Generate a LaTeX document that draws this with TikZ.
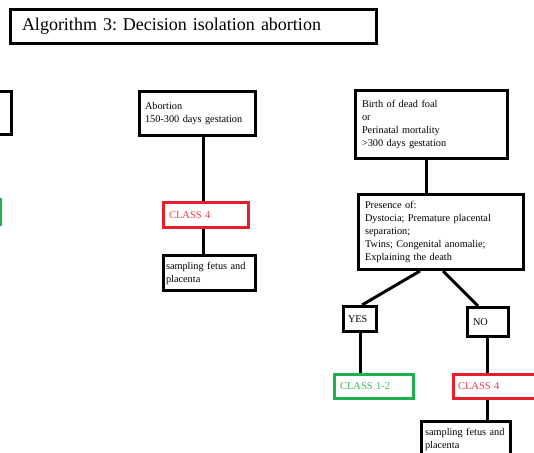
\documentclass[tikz,border=0pt]{standalone}
\usepackage{fontspec}
\setmainfont{Liberation Serif}
\definecolor{boxred}{RGB}{232,30,42}
\definecolor{txtred}{RGB}{232,60,75}
\definecolor{boxgreen}{RGB}{30,178,76}
\definecolor{txtgreen}{RGB}{55,185,90}
\frenchspacing
\begin{document}
\begin{tikzpicture}[x=1pt,y=-1pt,
  base/.style={draw, line width=3pt, align=left, inner ysep=0pt,
    font=\fontsize{10.3}{13}\selectfont},
  plain/.style={base, draw=black},
  redbox/.style={base, draw=boxred, text=txtred,
    font=\fontsize{10.5}{13}\selectfont},
  greenbox/.style={base, draw=boxgreen, text=txtgreen,
    font=\fontsize{10.5}{13}\selectfont},
  link/.style={line width=3pt, draw=black}]

\useasboundingbox (0,0) rectangle (534,452);
\clip (0,0) rectangle (534,452);

% heading
\node[plain, minimum height=34pt, text width=343pt, inner xsep=11.5pt,
  font=\fontsize{18}{22}\selectfont] (title) at (193.5,26.5)
  {Algorithm 3: Decision isolation abortion};

% boxes of the neighbouring branch, running off the left edge
\node[plain, minimum width=42pt, minimum height=43pt, inner sep=0pt] (prev) at (-9.5,113) {};
\node[base, draw=boxgreen, minimum width=60pt, minimum height=25pt, inner sep=0pt] (prevclass) at (-29.5,212) {};

% abortion branch
\node[plain, minimum height=44pt, text width=105pt, inner xsep=5.5pt] (abort) at (197.5,113.5)
  {Abortion\\150-300 days gestation};
\node[redbox, minimum height=25pt, text width=74pt, inner xsep=5.5pt] (clsA) at (206,215)
  {CLASS 4};
\node[plain, minimum height=35pt, text width=87pt, inner xsep=2.5pt] (sampA) at (209.5,273)
  {sampling fetus and\\placenta};

% dead foal / perinatal branch
\node[plain, minimum height=68pt, text width=139pt, inner xsep=6.5pt] (birth) at (431.5,124.5)
  {Birth of dead foal\\or\\Perinatal mortality\\>300 days gestation};
\node[plain, minimum height=75pt, text width=152pt, inner xsep=6.5pt] (presence) at (441,232)
  {Presence of:\\Dystocia; Premature placental\\separation;\\Twins; Congenital anomalie;\\Explaining the death};
\node[plain, minimum height=25pt, text width=24pt, inner xsep=4.5pt] (yes) at (360,319) {YES};
\node[plain, minimum height=29pt, text width=30pt, inner xsep=5.5pt] (no) at (488,322) {NO};
\node[greenbox, minimum height=24pt, text width=68pt, inner xsep=5.5pt] (clsB) at (374,386.5)
  {CLASS 1-2};
\node[redbox, minimum height=24pt, text width=81pt, inner xsep=4.5pt] (clsC) at (498.5,386.5)
  {CLASS 4};
\node[plain, minimum height=35pt, text width=82pt, inner xsep=3.5pt] (sampB) at (466,439)
  {sampling fetus and\\placenta};

% connectors
\draw[link] ([xshift=6pt]abort.south) -- ([xshift=-2.5pt]clsA.north);
\draw[link] ([xshift=-2.5pt]clsA.south) -- ([xshift=-6pt]sampA.north);
\draw[link] ([xshift=-5.5pt]birth.south) -- ([xshift=-15pt]presence.north);
\draw[link] ([xshift=-21pt]presence.south) -- ([xshift=2pt]yes.north);
\draw[link] ([xshift=2pt]presence.south) -- ([xshift=-10pt]no.north);
\draw[link] (yes.south) -- ([xshift=-14pt]clsB.north);
\draw[link] ([xshift=-1pt]no.south) -- ([xshift=-11.5pt]clsC.north);
\draw[link] ([xshift=-11.5pt]clsC.south) -- ([xshift=21pt]sampB.north);
\end{tikzpicture}
\end{document}
